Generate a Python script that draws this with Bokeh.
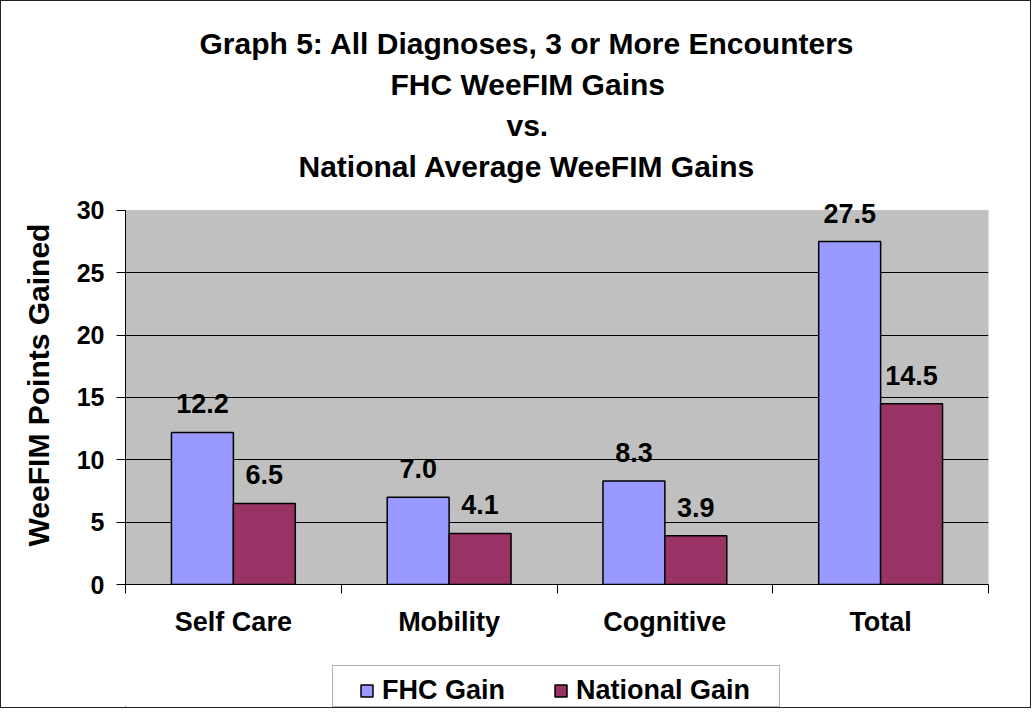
import numpy as np
from bokeh.plotting import figure
from bokeh.layouts import column
from bokeh.models import (ColumnDataSource, Range1d, FixedTicker, LabelSet, Title,
                          Legend, LegendItem, BoxAnnotation)
from bokeh.transform import dodge
from bokeh.core.properties import value
from bokeh.embed import file_html
from bokeh.resources import INLINE

# ---- data ----
categories = ["Self Care", "Mobility", "Cognitive", "Total"]
fhc_gain = [12.2, 7.0, 8.3, 27.5]
national_gain = [6.5, 4.1, 3.9, 14.5]
y_ticks = [0, 5, 10, 15, 20, 25, 30]
title_lines = ["Graph 5: All Diagnoses, 3 or More Encounters",
               "FHC WeeFIM Gains",
               "vs.",
               "National Average WeeFIM Gains"]
series_names = ["FHC Gain", "National Gain"]

FONT = "Liberation Sans"
FHC_COLOR = "#9999FF"
NAT_COLOR = "#993366"
centers = list(np.arange(len(categories)) + 0.5)
y_min, y_max = y_ticks[0], y_ticks[-1]

src = ColumnDataSource(dict(
    x=centers,
    fhc=fhc_gain,
    nat=national_gain,
    fhc_txt=[f"{v:.1f}" for v in fhc_gain],
    nat_txt=[f"{v:.1f}" for v in national_gain],
))

# ---------------- main chart ----------------
p = figure(width=1029, height=648, output_backend="svg", toolbar_location=None,
           x_range=Range1d(0, len(categories)), y_range=Range1d(y_min, 32.0),
           min_border_left=124, min_border_right=42, min_border_top=184,
           min_border_bottom=65)

p.background_fill_color = "white"
p.border_fill_color = "white"
p.outline_line_color = None
p.add_layout(BoxAnnotation(left=0, right=len(categories), bottom=y_min, top=y_max,
                           fill_color="#C0C0C0", fill_alpha=1,
                           line_color="#808080", line_width=1, level="image"))
p.xgrid.visible = False
p.ygrid.ticker = FixedTicker(ticks=y_ticks[1:-1])
p.ygrid.grid_line_color = "black"
p.ygrid.grid_line_width = 1

xa = p.xaxis[0]
xa.ticker = FixedTicker(ticks=centers, minor_ticks=list(range(len(categories) + 1)))
xa.major_label_overrides = {c: name for c, name in zip(centers, categories)}
xa.major_tick_line_color = None
xa.major_tick_out = 0
xa.major_tick_in = 0
xa.minor_tick_line_color = "black"
xa.minor_tick_in = 0
xa.minor_tick_out = 9
xa.axis_line_color = "black"
xa.major_label_text_font = FONT
xa.major_label_text_font_style = "bold"
xa.major_label_text_font_size = "27px"
xa.major_label_text_color = "black"
xa.major_label_standoff = 13

ya = p.yaxis[0]
ya.ticker = FixedTicker(ticks=y_ticks)
ya.bounds = (y_min, y_max)
ya.major_tick_line_color = "black"
ya.major_tick_out = 9
ya.major_tick_in = 0
ya.minor_tick_line_color = None
ya.axis_line_color = "black"
ya.major_label_text_font = FONT
ya.major_label_text_font_style = "bold"
ya.major_label_text_font_size = "25px"
ya.major_label_text_color = "black"
ya.major_label_standoff = 12
ya.axis_label = "WeeFIM Points Gained"
ya.axis_label_text_font = FONT
ya.axis_label_text_font_style = "bold"
ya.axis_label_text_font_size = "30px"
ya.axis_label_text_color = "black"
ya.axis_label_standoff = 19

bw = 0.287
off = bw / 2
p.vbar(x=dodge("x", -off, range=p.x_range), top="fhc", width=bw, source=src,
       fill_color=FHC_COLOR, line_color="black", line_width=1.5)
p.vbar(x=dodge("x", off, range=p.x_range), top="nat", width=bw, source=src,
       fill_color=NAT_COLOR, line_color="black", line_width=1.5)

for col, txt, o in (("fhc", "fhc_txt", -off), ("nat", "nat_txt", off)):
    p.add_layout(LabelSet(x=dodge("x", o, range=p.x_range), y=col, text=txt, source=src,
                          y_offset=19, text_align="center", text_baseline="alphabetic",
                          text_font=value(FONT), text_font_style="bold",
                          text_font_size="27px", text_color="black"))

# title lines (left-aligned with per-line offsets so they centre where the original does)
title_offsets = [74, 265, 381, 173]
for line, o in reversed(list(zip(title_lines, title_offsets))):
    p.add_layout(Title(text=line, align="left", offset=o, standoff=6,
                       text_font=FONT, text_font_style="bold",
                       text_font_size="30px", text_color="black"), "above")

# ---------------- legend strip (its frame lines up with the chart's frame) ----------------
lg = figure(width=1029, height=58, output_backend="svg", toolbar_location=None,
            x_range=Range1d(125, 988), y_range=Range1d(1000, 1058),
            x_axis_location=None, y_axis_location=None,
            min_border_left=124, min_border_right=42, min_border_top=0, min_border_bottom=0)
lg.grid.visible = False
lg.outline_line_color = None
lg.background_fill_color = "white"
lg.border_fill_color = "white"
# proxies (far outside the strip's visible ranges) that carry the legend swatches
l1 = lg.vbar(x="x", top="fhc", width=bw, source=src,
             fill_color=FHC_COLOR, line_color="black", line_width=1.5)
l2 = lg.vbar(x="x", top="nat", width=bw, source=src,
             fill_color=NAT_COLOR, line_color="black", line_width=1.5)
lg.add_layout(BoxAnnotation(left=332, right=779, bottom=1001, top=1042,
                            fill_color="white", fill_alpha=1,
                            line_color="black", line_width=1, level="underlay"))
legend = Legend(items=[LegendItem(label=series_names[0], renderers=[l1]),
                       LegendItem(label=series_names[1], renderers=[l2])],
                orientation="horizontal", location=(234, 1), margin=0,
                glyph_width=15, glyph_height=15, label_standoff=8, spacing=48,
                padding=5, border_line_color=None, background_fill_alpha=0,
                label_text_font=FONT, label_text_font_style="bold",
                label_text_font_size="27px", label_text_color="black")
lg.add_layout(legend, "center")

page = column(p, lg, spacing=0)
page.styles = {"border": "1px solid #222222", "background-color": "white"}

open("out.html", "w").write(file_html(page, INLINE))
